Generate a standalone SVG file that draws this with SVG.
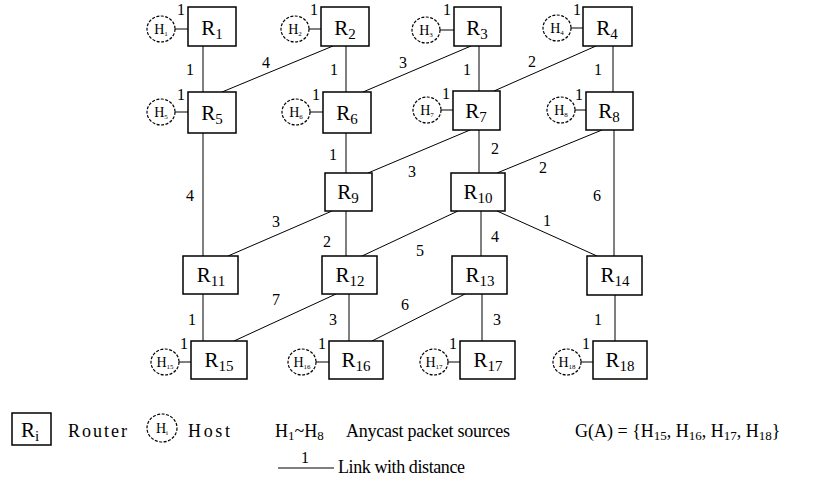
<svg xmlns="http://www.w3.org/2000/svg" width="813" height="490" viewBox="0 0 813 490">
<style>
text{font-family:"Liberation Serif","Times New Roman",serif;fill:#000}
.r{fill:#fff;stroke:#000;stroke-width:1.5}
.rl{font-size:21px;text-anchor:middle}
.sub{font-size:15px}
.h{fill:#fff;stroke:#000;stroke-width:1.2;stroke-dasharray:3 1.5}
.hl{font-size:14px;text-anchor:middle}
.hs{font-size:7px}
.e{stroke:#000;stroke-width:1;fill:none}
.n{font-size:16px;text-anchor:middle}
.lg{font-size:18px}
</style>
<rect width="813" height="490" fill="#fff"/>
<g id="connectors">
<line class="e" x1="175" y1="29" x2="188" y2="29"/>
<line class="e" x1="309" y1="29" x2="321" y2="29"/>
<line class="e" x1="440" y1="30" x2="454" y2="30"/>
<line class="e" x1="571" y1="28" x2="583" y2="28"/>
<line class="e" x1="175" y1="112" x2="188" y2="112"/>
<line class="e" x1="310" y1="112" x2="323" y2="112"/>
<line class="e" x1="441" y1="110" x2="453" y2="110"/>
<line class="e" x1="575" y1="110" x2="586" y2="110"/>
<line class="e" x1="179" y1="362" x2="191" y2="362"/>
<line class="e" x1="316" y1="362" x2="329" y2="362"/>
<line class="e" x1="448" y1="362" x2="460" y2="362"/>
<line class="e" x1="581" y1="362" x2="593" y2="362"/>
<line class="e" x1="203" y1="46" x2="203" y2="92"/>
<line class="e" x1="346" y1="46" x2="346" y2="92"/>
<line class="e" x1="479" y1="46" x2="479" y2="91"/>
<line class="e" x1="613" y1="46" x2="613" y2="92"/>
<line class="e" x1="203" y1="133" x2="203" y2="256"/>
<line class="e" x1="346" y1="133" x2="346" y2="173"/>
<line class="e" x1="346" y1="211" x2="346" y2="256"/>
<line class="e" x1="479" y1="130" x2="479" y2="173"/>
<line class="e" x1="614" y1="130" x2="614" y2="256"/>
<line class="e" x1="481" y1="211" x2="481" y2="256"/>
<line class="e" x1="203" y1="294" x2="203" y2="341"/>
<line class="e" x1="349" y1="294" x2="349" y2="341"/>
<line class="e" x1="482" y1="294" x2="482" y2="341"/>
<line class="e" x1="615" y1="295" x2="615" y2="341"/>
<line class="e" x1="333" y1="46" x2="222" y2="92"/>
<line class="e" x1="471" y1="46" x2="363" y2="92"/>
<line class="e" x1="596" y1="46" x2="494" y2="91"/>
<line class="e" x1="470" y1="130" x2="368" y2="173"/>
<line class="e" x1="602" y1="130" x2="497" y2="173"/>
<line class="e" x1="332" y1="211" x2="228" y2="256"/>
<line class="e" x1="458" y1="211" x2="362" y2="256"/>
<line class="e" x1="497" y1="211" x2="597" y2="256"/>
<line class="e" x1="336" y1="294" x2="234" y2="341"/>
<line class="e" x1="465" y1="294" x2="372" y2="341"/>
<text class="n" x="181" y="15">1</text>
<text class="n" x="314" y="15">1</text>
<text class="n" x="447" y="15">1</text>
<text class="n" x="577" y="15">1</text>
<text class="n" x="181" y="100">1</text>
<text class="n" x="316" y="100">1</text>
<text class="n" x="446" y="99">1</text>
<text class="n" x="579" y="100">1</text>
<text class="n" x="184" y="349">1</text>
<text class="n" x="322" y="349">1</text>
<text class="n" x="453" y="349">1</text>
<text class="n" x="586" y="349">1</text>
<text class="n" x="190" y="75">1</text>
<text class="n" x="334" y="75">1</text>
<text class="n" x="467" y="75">1</text>
<text class="n" x="598" y="75">1</text>
<text class="n" x="266" y="68">4</text>
<text class="n" x="403" y="68">3</text>
<text class="n" x="532" y="67">2</text>
<text class="n" x="190" y="201">4</text>
<text class="n" x="333" y="160">1</text>
<text class="n" x="412" y="177">3</text>
<text class="n" x="495" y="154">2</text>
<text class="n" x="543" y="173">2</text>
<text class="n" x="597" y="201">6</text>
<text class="n" x="276" y="227">3</text>
<text class="n" x="327" y="247">2</text>
<text class="n" x="420" y="256">5</text>
<text class="n" x="495" y="242">4</text>
<text class="n" x="547" y="226">1</text>
<text class="n" x="276" y="305">7</text>
<text class="n" x="405" y="310">6</text>
<text class="n" x="192" y="325">1</text>
<text class="n" x="333" y="325">3</text>
<text class="n" x="497" y="325">3</text>
<text class="n" x="598" y="325">1</text>
</g>
<g id="R1"><rect class="r" x="188" y="7" width="48" height="39"/><text class="rl" x="212" y="35">R<tspan class="sub" dy="4">1</tspan></text></g>
<g id="R2"><rect class="r" x="321" y="7" width="48" height="39"/><text class="rl" x="345" y="35">R<tspan class="sub" dy="4">2</tspan></text></g>
<g id="R3"><rect class="r" x="454" y="7" width="47" height="39"/><text class="rl" x="477" y="35">R<tspan class="sub" dy="4">3</tspan></text></g>
<g id="R4"><rect class="r" x="583" y="7" width="49" height="39"/><text class="rl" x="607" y="35">R<tspan class="sub" dy="4">4</tspan></text></g>
<g id="R5"><rect class="r" x="188" y="92" width="48" height="41"/><text class="rl" x="212" y="120">R<tspan class="sub" dy="4">5</tspan></text></g>
<g id="R6"><rect class="r" x="323" y="92" width="48" height="41"/><text class="rl" x="347" y="120">R<tspan class="sub" dy="4">6</tspan></text></g>
<g id="R7"><rect class="r" x="453" y="91" width="47" height="39"/><text class="rl" x="476" y="118">R<tspan class="sub" dy="4">7</tspan></text></g>
<g id="R8"><rect class="r" x="586" y="92" width="47" height="38"/><text class="rl" x="609" y="118">R<tspan class="sub" dy="4">8</tspan></text></g>
<g id="R9"><rect class="r" x="325" y="173" width="47" height="38"/><text class="rl" x="348" y="199">R<tspan class="sub" dy="4">9</tspan></text></g>
<g id="R10"><rect class="r" x="451" y="173" width="54" height="38"/><text class="rl" x="478" y="199">R<tspan class="sub" dy="4">10</tspan></text></g>
<g id="R11"><rect class="r" x="183" y="256" width="55" height="38"/><text class="rl" x="211" y="282">R<tspan class="sub" dy="4">11</tspan></text></g>
<g id="R12"><rect class="r" x="322" y="256" width="55" height="38"/><text class="rl" x="350" y="282">R<tspan class="sub" dy="4">12</tspan></text></g>
<g id="R13"><rect class="r" x="452" y="256" width="55" height="38"/><text class="rl" x="480" y="282">R<tspan class="sub" dy="4">13</tspan></text></g>
<g id="R14"><rect class="r" x="587" y="256" width="55" height="39"/><text class="rl" x="615" y="282">R<tspan class="sub" dy="4">14</tspan></text></g>
<g id="R15"><rect class="r" x="191" y="341" width="56" height="38"/><text class="rl" x="219" y="367">R<tspan class="sub" dy="4">15</tspan></text></g>
<g id="R16"><rect class="r" x="329" y="341" width="54" height="38"/><text class="rl" x="356" y="367">R<tspan class="sub" dy="4">16</tspan></text></g>
<g id="R17"><rect class="r" x="460" y="341" width="55" height="38"/><text class="rl" x="488" y="367">R<tspan class="sub" dy="4">17</tspan></text></g>
<g id="R18"><rect class="r" x="593" y="341" width="54" height="38"/><text class="rl" x="620" y="367">R<tspan class="sub" dy="4">18</tspan></text></g>
<g id="H1"><ellipse class="h" cx="161" cy="29" rx="14" ry="13"/><text class="hl" x="161" y="34">H<tspan class="hs" dy="2">1</tspan></text></g>
<g id="H2"><ellipse class="h" cx="295" cy="29" rx="14" ry="13"/><text class="hl" x="295" y="34">H<tspan class="hs" dy="2">2</tspan></text></g>
<g id="H3"><ellipse class="h" cx="426" cy="30" rx="14" ry="13"/><text class="hl" x="426" y="35">H<tspan class="hs" dy="2">3</tspan></text></g>
<g id="H4"><ellipse class="h" cx="557" cy="28" rx="14" ry="13"/><text class="hl" x="557" y="33">H<tspan class="hs" dy="2">4</tspan></text></g>
<g id="H5"><ellipse class="h" cx="161" cy="112" rx="14" ry="13"/><text class="hl" x="161" y="117">H<tspan class="hs" dy="2">5</tspan></text></g>
<g id="H6"><ellipse class="h" cx="296" cy="112" rx="14" ry="13"/><text class="hl" x="296" y="117">H<tspan class="hs" dy="2">6</tspan></text></g>
<g id="H7"><ellipse class="h" cx="427" cy="110" rx="14" ry="13"/><text class="hl" x="427" y="115">H<tspan class="hs" dy="2">7</tspan></text></g>
<g id="H8"><ellipse class="h" cx="561" cy="110" rx="14" ry="13"/><text class="hl" x="561" y="115">H<tspan class="hs" dy="2">8</tspan></text></g>
<g id="H15"><ellipse class="h" cx="165" cy="362" rx="14" ry="13"/><text class="hl" x="165" y="367">H<tspan class="hs" dy="2">15</tspan></text></g>
<g id="H16"><ellipse class="h" cx="302" cy="362" rx="14" ry="13"/><text class="hl" x="302" y="367">H<tspan class="hs" dy="2">16</tspan></text></g>
<g id="H17"><ellipse class="h" cx="434" cy="362" rx="14" ry="13"/><text class="hl" x="434" y="367">H<tspan class="hs" dy="2">17</tspan></text></g>
<g id="H18"><ellipse class="h" cx="567" cy="362" rx="14" ry="13"/><text class="hl" x="567" y="367">H<tspan class="hs" dy="2">18</tspan></text></g>
<g id="legend">
<rect class="r" x="12" y="413" width="39" height="32"/>
<text class="rl" x="30" y="437" font-size="18">R<tspan class="sub" dy="4">i</tspan></text>
<text class="lg" x="68" y="437" textLength="59">Router</text>
<ellipse class="h" cx="162" cy="428" rx="15" ry="14"/>
<text class="hl" x="162" y="433">H<tspan class="hs" dy="2">i</tspan></text>
<text class="lg" x="188" y="437" textLength="42">Host</text>
<text class="lg" x="275" y="437">H<tspan font-size="13" dy="3">1</tspan><tspan dy="-3">~H</tspan><tspan font-size="13" dy="3">8</tspan></text>
<text class="lg" x="346" y="437" textLength="164">Anycast packet sources</text>
<text class="lg" x="575" y="437">G(A) = {H<tspan font-size="13" dy="3">15</tspan><tspan dy="-3">, H</tspan><tspan font-size="13" dy="3">16</tspan><tspan dy="-3">, H</tspan><tspan font-size="13" dy="3">17</tspan><tspan dy="-3">, H</tspan><tspan font-size="13" dy="3">18</tspan><tspan dy="-3">}</tspan></text>
<line class="e" x1="278" y1="468" x2="334" y2="468"/>
<text class="n" x="305" y="463">1</text>
<text class="lg" x="338" y="473" textLength="127">Link with distance</text>
</g>
</svg>
